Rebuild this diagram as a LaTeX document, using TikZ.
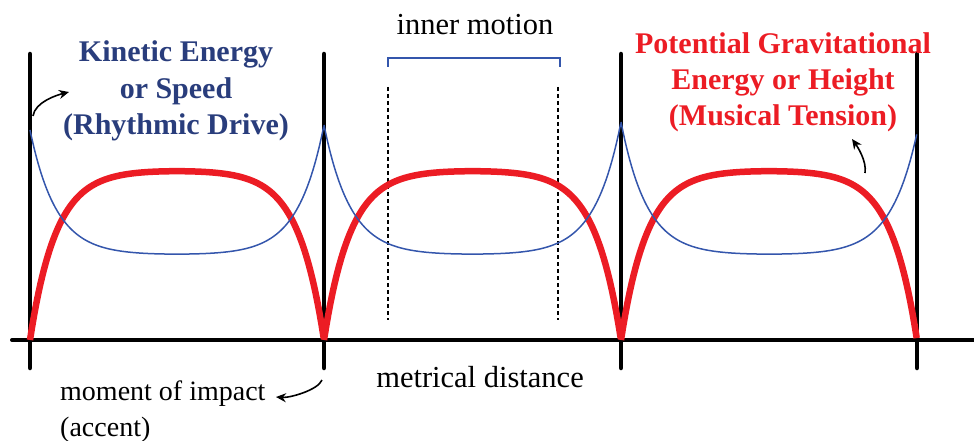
\documentclass[tikz,border=0pt]{standalone}
\usepackage{fontspec}
\setmainfont{Liberation Serif}
\usetikzlibrary{arrows.meta}
\definecolor{Navy}{RGB}{41,61,124}
\definecolor{Wave}{RGB}{52,86,172}
\definecolor{Tension}{RGB}{236,28,36}

\begin{document}
\begin{tikzpicture}[x=1pt,y=-1pt,
 declare function={pf(\t)=(1-exp(-11.3*\t))*(1-exp(-11.3*(1-\t)));},
 bar/.style={line width=4.5pt,black,line cap=round},
 pe/.style={line width=6.5pt,Tension,line join=round},
 ke/.style={line width=1.5pt,Wave},
 g/.style={dash pattern=on 4pt off 3pt,line width=1.5pt},
 lbl/.style={font=\fontsize{30.5}{36}\selectfont,align=center,inner sep=0pt},
 ttl/.style={align=center,inner sep=0pt,font=\fontsize{30}{36.5}\selectfont\bfseries},
 a/.style={-{Stealth[length=10pt,width=9pt]},line width=1.6pt}]
\useasboundingbox (0,0) rectangle (974,441);
% axis and bar lines
\draw[line width=4pt,line cap=round] (12,340) -- (980,340);
\foreach \bx in {30,324,621,917} \draw[bar] (\bx,54) -- (\bx,368);
% inner motion marks
\draw[g] (388,87) -- (388,320);
\draw[g] (558,87) -- (558,320);
\draw[Wave,line width=2pt] (388,67) -- (388,58) -- (560,58) -- (560,67);
% curves
\foreach \xa/\xb/\ya/\yb in {30/324/130/125,324/621/125/122,621/917/122/133}{
 \draw[pe] plot[domain=0:1,samples=140] ({\xa+(\xb-\xa)*\x},{340-170*pf(\x)});
 \draw[ke] plot[domain=0:1,samples=140] ({\xa+(\xb-\xa)*\x},{\ya+(\yb-\ya)*\x+(255-\ya-(\yb-\ya)*\x)*pf(\x)});
}
% labels
\node[ttl,Navy,anchor=base] (kin) at (176,135) {Kinetic Energy\\or Speed\\(Rhythmic Drive)};
\node[ttl,Tension,anchor=base] (pot) at (783,126) {Potential Gravitational\\Energy or Height\\(Musical Tension)};
\node[lbl,anchor=base] (inner) at (475,35) {inner motion};
\node[lbl,anchor=base] (metr) at (480,387) {metrical distance};
\node[lbl,font=\fontsize{28}{36}\selectfont,align=left,anchor=base west] (imp) at (60,436) {moment of impact\\(accent)};
% pointers
\coordinate (k0) at (33,116);
\coordinate (k1) at (69,92);
\coordinate (p0) at (865,173);
\coordinate (p1) at (852,139);
\coordinate (m0) at (322,380);
\coordinate (m1) at (276,397);
\draw[a] (k0) .. controls +(2,-14) and +(-12,3) .. (k1);
\draw[a] (p0) .. controls +(2,-12) and +(5,7) .. (p1);
\draw[a] (m0) .. controls +(-4,10) and +(14,1) .. (m1);
\end{tikzpicture}
\end{document}
